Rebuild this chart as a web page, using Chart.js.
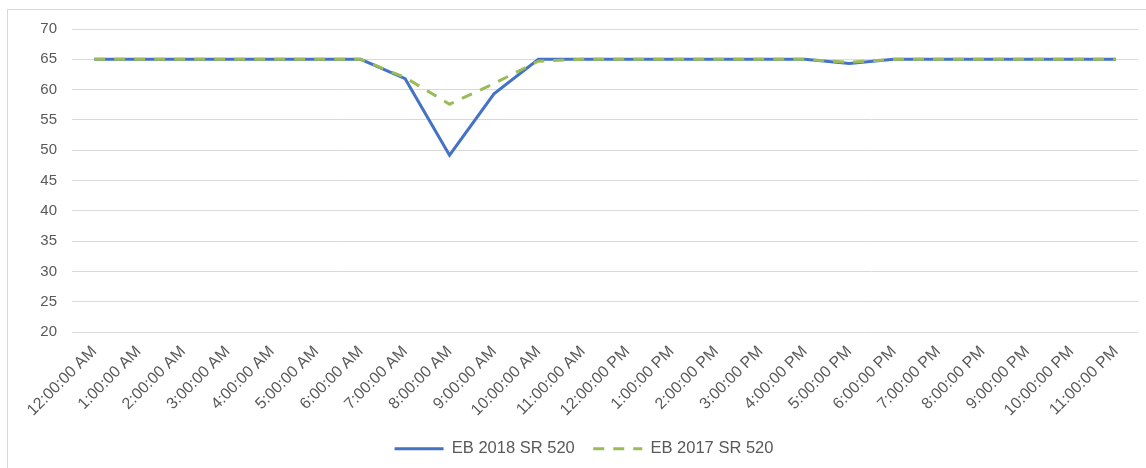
<!DOCTYPE html>
<html>
<head>
<meta charset="utf-8">
<script src="https://cdn.jsdelivr.net/npm/chart.js@4.4.0/dist/chart.umd.min.js"></script>
<style>
  html, body { margin: 0; padding: 0; background: #fff; overflow: hidden; }
  #frame { position: absolute; left: 7px; top: 9px; width: 1150px; height: 470px;
           border-left: 1px solid #d9d9d9; border-top: 1px solid #d9d9d9; }
  #wrap { position: absolute; left: 0; top: 0; width: 1146px; height: 468px; }
</style>
</head>
<body>
<div id="frame"></div>
<div id="wrap"><canvas id="chart"></canvas></div>
<script>
// hourly labels
const hours = [
  "12:00:00 AM","1:00:00 AM","2:00:00 AM","3:00:00 AM","4:00:00 AM","5:00:00 AM",
  "6:00:00 AM","7:00:00 AM","8:00:00 AM","9:00:00 AM","10:00:00 AM","11:00:00 AM",
  "12:00:00 PM","1:00:00 PM","2:00:00 PM","3:00:00 PM","4:00:00 PM","5:00:00 PM",
  "6:00:00 PM","7:00:00 PM","8:00:00 PM","9:00:00 PM","10:00:00 PM","11:00:00 PM"
];

// speeds
const eb2018 = [65,65,65,65,65,65,65,61.8,49.2,59.3,65,65,65,65,65,65,65,64.3,65,65,65,65,65,65];
const eb2017 = [65,65,65,65,65,65,65,62,57.6,61,64.7,65,65,65,65,65,65,64.5,65,65,65,65,65,65];

const yMin = 20, yMax = 70, yStep = 5;

const txt = '#595959';
const font = 'Liberation Sans, Arial, sans-serif';

// legend sits a little right of centre in the original
const nudgeLegend = {
  id: 'nudgeLegend',
  afterLayout(c) {
    c.legend.left += 11;
    c.legend.right += 11;
  }
};

const chart = new Chart(document.getElementById('chart'), {
  type: 'line',
  data: {
    labels: hours,
    datasets: [
      {
        label: 'EB 2018 SR 520',
        data: eb2018,
        borderColor: '#4472c4',
        backgroundColor: '#4472c4',
        borderWidth: 3,
        pointRadius: 0,
        tension: 0,
        order: 1
      },
      {
        label: 'EB 2017 SR 520',
        data: eb2017,
        borderColor: '#9bbb59',
        backgroundColor: '#9bbb59',
        borderWidth: 3,
        borderDash: [11, 9],
        pointRadius: 0,
        tension: 0,
        order: 0
      }
    ]
  },
  options: {
    responsive: true,
    maintainAspectRatio: false,
    animation: false,
    layout: { padding: { left: 8, right: 8, top: 29, bottom: 1 } },
    plugins: {
      tooltip: { enabled: false },
      legend: {
        position: 'bottom',
        labels: {
          usePointStyle: true,
          pointStyle: 'line',
          pointStyleWidth: 49,
          padding: 18.5,
          color: txt,
          font: { family: font, size: 16.5 },
          sort: (a, b) => a.datasetIndex - b.datasetIndex,
          generateLabels: (c) => {
            const items = Chart.defaults.plugins.legend.labels.generateLabels(c);
            items.forEach(it => {
              const ds = c.data.datasets[it.datasetIndex];
              it.lineDash = ds.borderDash || [];
              it.lineWidth = ds.borderWidth;
              it.strokeStyle = ds.borderColor;
            });
            return items;
          }
        }
      }
    },
    scales: {
      x: {
        offset: true,
        grid: { display: false },
        border: { display: false },
        ticks: {
          color: txt,
          font: { family: font, size: 16 },
          minRotation: 45,
          maxRotation: 45,
          autoSkip: false,
          padding: 2
        }
      },
      y: {
        min: yMin,
        max: yMax,
        grid: { color: '#d9d9d9', drawTicks: false },
        border: { display: false },
        ticks: {
          stepSize: yStep,
          color: txt,
          font: { family: font, size: 15 },
          padding: 15
        },
        afterFit: (s) => { s.width = 64; }
      }
    }
  },
  plugins: [nudgeLegend]
});
</script>
</body>
</html>
